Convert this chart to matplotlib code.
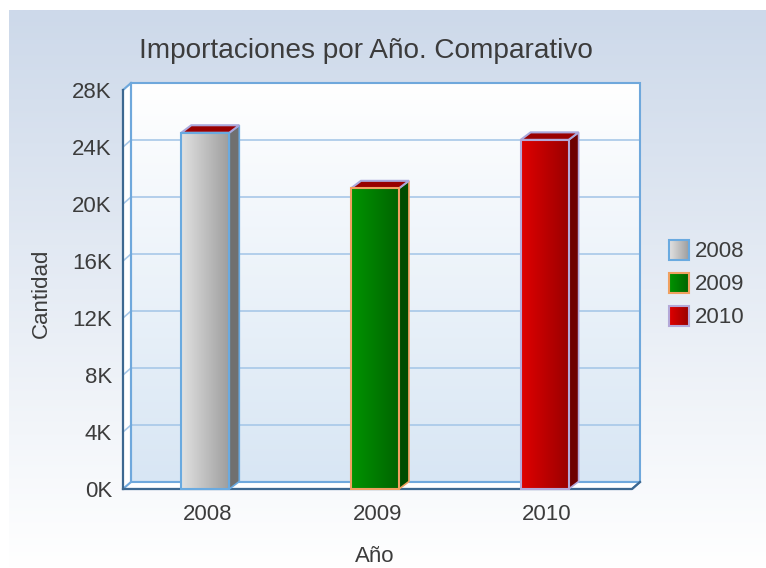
import numpy as np
import matplotlib
matplotlib.use("Agg")
import matplotlib.pyplot as plt
from matplotlib.patches import Polygon, Rectangle
from matplotlib.colors import LinearSegmentedColormap

plt.rcParams['font.family'] = ['Liberation Sans', 'DejaVu Sans']

# ---- data ----
title = "Importaciones por Año. Comparativo"
categories = ["2008", "2009", "2010"]
values = [25000, 21100, 24500]
y_ticks = [0, 4000, 8000, 12000, 16000, 20000, 24000, 28000]
y_tick_labels = ["0K", "4K", "8K", "12K", "16K", "20K", "24K", "28K"]
x_label = "Año"
y_label = "Cantidad"

# styles
face_grad = [("#e2e2e2", "#9e9e9e"), ("#009400", "#006400"), ("#e00000", "#9a0000")]
side_cols = ["#707070", "#004c00", "#6e0000"]
edge_cols = ["#6aaae0", "#f0a060", "#b4a8d8"]
top_col = "#990000"
top_edge = "#aaa8dc"
text_col = "#3c3c3c"
W, H = 766, 568

fig = plt.figure(figsize=(W / 100, H / 100), dpi=100)

# background axes in pixel coordinates
bg = fig.add_axes([0, 0, 1, 1], zorder=0)
bg.set_xlim(0, W)
bg.set_ylim(H, 0)
bg.axis("off")
bgcmap = LinearSegmentedColormap.from_list("bg", ["#cdd9ea", "#ffffff"])
bg.imshow(np.linspace(0, 1, 256).reshape(-1, 1), cmap=bgcmap, aspect="auto",
          extent=[9, W, H, 10], interpolation="bilinear")
bg.set_xlim(0, W)
bg.set_ylim(H, 0)

# front plane in pixels; the axes box is enlarged to include the depth offset
L, R, T, B = 123, 632, 90, 489
WDX, WDY = 8, 7          # wall depth (px)
BDX, BDY = 10, 7.5       # bar depth (px)
ncat = len(categories)
ux = ncat / (R - L)      # data units per pixel (x)
uy = 28000 / (B - T)     # data units per pixel (y)
wdx, wdy = WDX * ux, WDY * uy
bdx, bdy = BDX * ux, BDY * uy
x0, x1 = -0.5, ncat - 0.5
XL = (x0, x1 + wdx)
YL = (0, 28000 + wdy)

ax = fig.add_axes([L / W, (H - B) / H, (R + WDX - L) / W, (B - T + WDY) / H], zorder=1)
ax.set_facecolor("none")
for s in ax.spines.values():
    s.set_visible(False)


def lims():
    ax.set_xlim(*XL)
    ax.set_ylim(*YL)


# back wall with gradient
wall = Polygon([(x0 + wdx, wdy), (x1 + wdx, wdy), (x1 + wdx, 28000 + wdy), (x0 + wdx, 28000 + wdy)],
               closed=True, facecolor="none", edgecolor="#6fa8dc", lw=1.5, clip_on=False, zorder=3)
ax.add_patch(wall)
wcmap = LinearSegmentedColormap.from_list("wall", ["#ffffff", "#d8e6f4"])
im = ax.imshow(np.linspace(0, 1, 256).reshape(-1, 1), cmap=wcmap, aspect="auto",
               extent=[x0 + wdx, x1 + wdx, wdy, 28000 + wdy], interpolation="bilinear",
               origin="upper", zorder=1)
im.set_clip_path(wall)
lims()

# grid lines on back wall + left side diagonals
for yt in y_ticks:
    if 0 < yt < 28000:
        ax.plot([x0 + wdx, x1 + wdx], [yt + wdy, yt + wdy], color="#a8c8e8", lw=1.2, zorder=2, clip_on=False)
    ax.plot([x0, x0 + wdx], [yt, yt + wdy], color="#a8c8e8", lw=1.2, zorder=2.6, clip_on=False)

# floor
floor = Polygon([(x0, 0), (x1, 0), (x1 + wdx, wdy), (x0 + wdx, wdy)], closed=True,
                facecolor="white", edgecolor="#6fa8dc", lw=1.5, clip_on=False, zorder=3)
ax.add_patch(floor)
# left wall (white strip)
lwall = Polygon([(x0, 0), (x0 + wdx, wdy), (x0 + wdx, 28000 + wdy), (x0, 28000)], closed=True,
                facecolor="white", edgecolor="none", clip_on=False, zorder=2.5)
ax.add_patch(lwall)
ax.plot([x0 + wdx, x0 + wdx], [wdy, 28000 + wdy], color="#6fa8dc", lw=1.5, zorder=3, clip_on=False)
ax.plot([x0, x0 + wdx], [28000, 28000 + wdy], color="#6fa8dc", lw=1.5, zorder=3, clip_on=False)
# front axis lines
ax.plot([x0, x0], [0, 28000], color="#3d6890", lw=1.6, zorder=4, clip_on=False)
ax.plot([x0, x1, x1 + wdx], [0, 0, wdy], color="#3d6890", lw=1.6, zorder=4, clip_on=False)

# bars
bw = 48 * ux
for i, (cat, v) in enumerate(zip(categories, values)):
    xl, xr = i - bw / 2 - 0.015, i + bw / 2 - 0.015
    side = Polygon([(xr, 0), (xr + bdx, bdy), (xr + bdx, v + bdy), (xr, v)], closed=True,
                   facecolor=side_cols[i], edgecolor=edge_cols[i], lw=1.2, zorder=5, clip_on=False)
    ax.add_patch(side)
    top = Polygon([(xl, v), (xr, v), (xr + bdx, v + bdy), (xl + bdx, v + bdy)], closed=True,
                  facecolor=top_col, edgecolor=top_edge, lw=1.5, zorder=5, clip_on=False)
    ax.add_patch(top)
    front = Rectangle((xl, 0), xr - xl, v, facecolor="none", edgecolor=edge_cols[i], lw=1.5,
                      zorder=7, clip_on=False)
    ax.add_patch(front)
    cm = LinearSegmentedColormap.from_list("b%d" % i, list(face_grad[i]))
    bim = ax.imshow(np.linspace(0, 1, 256).reshape(1, -1), cmap=cm, aspect="auto",
                    extent=[xl, xr, 0, v], interpolation="bilinear", zorder=6)
    bim.set_clip_path(front)
    lims()

# ticks
ax.set_yticks(y_ticks)
ax.set_yticklabels(y_tick_labels)
ax.set_xticks(range(ncat))
ax.set_xticklabels(categories)
ax.tick_params(axis="both", length=0, labelsize=16, colors=text_col)
ax.tick_params(axis="y", pad=8)
ax.tick_params(axis="x", pad=11)
lims()

# titles / labels
fig.text(366 / W, 1 - 51 / H, title, ha="center", va="center", fontsize=20.2, color=text_col)
fig.text(375 / W, 1 - 557 / H, x_label, ha="center", va="center", fontsize=16, color=text_col)
fig.text(41 / W, 1 - 293 / H, y_label, ha="center", va="center", rotation=90, fontsize=16, color=text_col)

# legend (pixel coordinates on background axes)
leg_y = [249.5, 282.5, 315.5]
for i, cat in enumerate(categories):
    cy = leg_y[i]
    sq = Rectangle((669, cy - 10), 20, 20, facecolor="none", edgecolor=edge_cols[i], lw=1.5, zorder=3)
    bg.add_patch(sq)
    cm = LinearSegmentedColormap.from_list("l%d" % i, list(face_grad[i]))
    lim = bg.imshow(np.linspace(0, 1, 64).reshape(1, -1), cmap=cm, aspect="auto",
                    extent=[669, 689, cy + 10, cy - 10], interpolation="bilinear", zorder=2)
    lim.set_clip_path(sq)
    bg.text(695, cy + 2, cat, ha="left", va="center", fontsize=16, color=text_col)
bg.set_xlim(0, W)
bg.set_ylim(H, 0)

fig.savefig("out.png", dpi=100)
